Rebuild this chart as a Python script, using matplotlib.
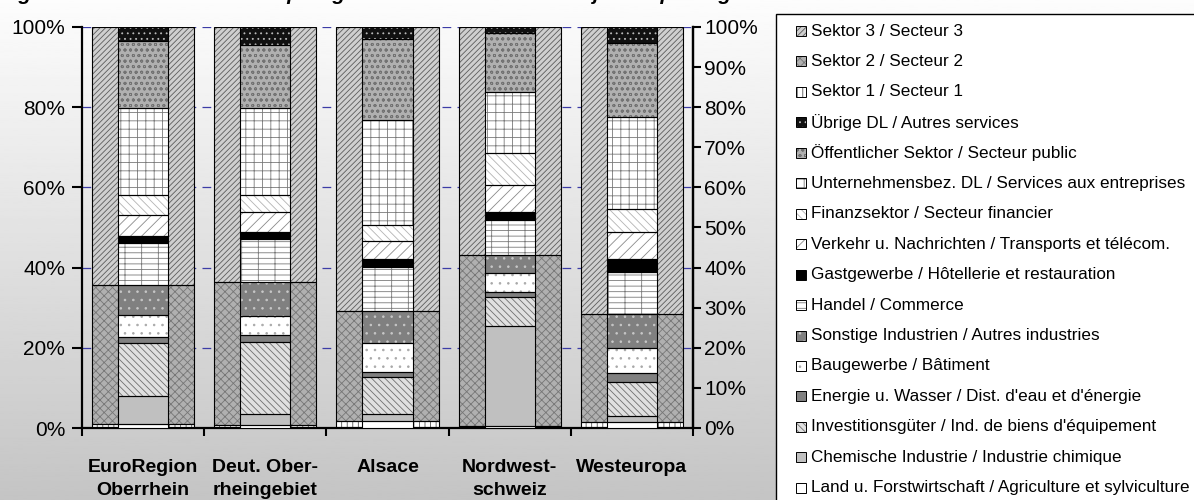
import numpy as np
import matplotlib
matplotlib.use("Agg")
import matplotlib.pyplot as plt
from matplotlib.patches import Rectangle
from matplotlib.transforms import blended_transform_factory

plt.rcParams['font.family'] = ['Liberation Sans', 'DejaVu Sans']
plt.rcParams['hatch.linewidth'] = 0.6

regions = ["EuroRegion\nOberrhein", "Deut. Ober-\nrheingebiet", "Alsace",
           "Nordwest-\nschweiz", "Westeuropa"]

# Branch shares of value added (%), listed from the bottom of each column upwards
land = [1.0, 0.7, 1.8, 0.5, 1.4]
chemie = [7.0, 2.7, 1.7, 25.0, 1.7]
invest = [13.1, 18.1, 9.1, 7.1, 8.4]
energie = [1.7, 1.7, 1.4, 1.2, 2.3]
bau = [5.4, 4.7, 7.3, 4.9, 6.2]
sonstige = [7.4, 8.4, 7.9, 4.4, 8.4]
handel = [10.5, 10.8, 11.0, 8.8, 10.6]
gast = [1.8, 1.7, 1.9, 1.9, 3.1]
verkehr = [5.1, 5.0, 4.5, 6.8, 6.9]
finanz = [5.0, 4.2, 3.9, 8.1, 5.6]
unternehmen = [21.7, 21.7, 26.3, 15.2, 22.9]
oeffentlich = [16.8, 15.8, 20.1, 14.5, 18.4]
uebrige = [3.5, 4.5, 3.1, 1.6, 4.1]

left_ticks = [0, 20, 40, 60, 80, 100]
right_ticks = [0, 10, 20, 30, 40, 50, 60, 70, 80, 90, 100]

# fill styles: (face, hatch, hatch colour)
STYLE = {
    "s3": ("#cfcfcf", "//////", "#5c5c5c"),
    "s2": ("#b0b0b0", "xxxx", "#767676"),
    "s1": ("#ffffff", "|||", "#555555"),
    "uebrige": ("#111111", "...", "#bbbbbb"),
    "oeff": ("#b0b0b0", "ooo", "#727272"),
    "unter": ("#ffffff", "++", "#7a7a7a"),
    "finanz": ("#ffffff", "\\\\\\\\", "#b4b4b4"),
    "verkehr": ("#ffffff", "///", "#8a8a8a"),
    "gast": ("#000000", None, None),
    "handel": ("#ffffff", "---|", "#7a7a7a"),
    "sonst": ("#808080", "..", "#c8c8c8"),
    "bau": ("#ffffff", "..", "#a8a8a8"),
    "energie": ("#808080", None, None),
    "invest": ("#e0e0e0", "\\\\\\\\\\", "#707070"),
    "chemie": ("#c0c0c0", None, None),
    "land": ("#ffffff", None, None),
}

branches = [
    (land, "land"), (chemie, "chemie"), (invest, "invest"), (energie, "energie"),
    (bau, "bau"), (sonstige, "sonst"), (handel, "handel"), (gast, "gast"),
    (verkehr, "verkehr"), (finanz, "finanz"), (unternehmen, "unter"),
    (oeffentlich, "oeff"), (uebrige, "uebrige"),
]

legend_entries = [
    ("s3", "Sektor 3 / Secteur 3"),
    ("s2", "Sektor 2 / Secteur 2"),
    ("s1", "Sektor 1 / Secteur 1"),
    ("uebrige", "Übrige DL / Autres services"),
    ("oeff", "Öffentlicher Sektor / Secteur public"),
    ("unter", "Unternehmensbez. DL / Services aux entreprises"),
    ("finanz", "Finanzsektor / Secteur financier"),
    ("verkehr", "Verkehr u. Nachrichten / Transports et télécom."),
    ("gast", "Gastgewerbe / Hôtellerie et restauration"),
    ("handel", "Handel / Commerce"),
    ("sonst", "Sonstige Industrien / Autres industries"),
    ("bau", "Baugewerbe / Bâtiment"),
    ("energie", "Energie u. Wasser / Dist. d'eau et d'énergie"),
    ("invest", "Investitionsgüter / Ind. de biens d'équipement"),
    ("chemie", "Chemische Industrie / Industrie chimique"),
    ("land", "Land u. Forstwirtschaft / Agriculture et sylviculture"),
]

# sector totals aggregated from the branches
sek1 = np.array(land)
sek2 = np.array(chemie) + np.array(invest) + np.array(energie) + np.array(bau) + np.array(sonstige)
sek3 = (np.array(handel) + np.array(gast) + np.array(verkehr) + np.array(finanz)
        + np.array(unternehmen) + np.array(oeffentlich) + np.array(uebrige))

W, H = 1194, 500
fig = plt.figure(figsize=(W / 100, H / 100), dpi=100)

# soft vertical gradient background
bg = fig.add_axes([0, 0, 1, 1], zorder=-10)
grad = np.linspace(0.99, 0.77, 256).reshape(-1, 1)
bg.imshow(grad, aspect='auto', cmap='gray', vmin=0, vmax=1, extent=[0, 1, 0, 1])
bg.axis('off')

ax = fig.add_axes([82 / W, 1 - 428 / H, (693 - 82) / W, (428 - 27) / H])
ax.patch.set_alpha(0)
ax.set_xlim(0, 5)
ax.set_ylim(0, 100)

xc = np.arange(len(regions)) + 0.5


def draw(target, x, h, b, w, key, z, **kw):
    face, hatch, hcol = STYLE[key]
    target.bar(x, h, width=w, bottom=b, color=face, hatch=hatch,
               edgecolor=hcol if hatch else face, linewidth=0, zorder=z, **kw)
    target.bar(x, h, width=w, bottom=b, fill=False, edgecolor='black',
               linewidth=0.8, zorder=z + 0.1, **kw)


# dashed guide lines
for yv in left_ticks[1:]:
    ax.axhline(yv, color='#3c3ca6', lw=0.9, ls=(0, (7, 5)), zorder=1)

# wide sector columns
bottom = np.zeros(5)
for vals, key in [(sek1, "s1"), (sek2, "s2"), (sek3, "s3")]:
    draw(ax, xc, vals, bottom, 0.835, key, 2)
    bottom = bottom + vals

# narrow branch columns
bottom = np.zeros(5)
for vals, key in branches:
    vals = np.array(vals)
    draw(ax, xc, vals, bottom, 0.41, key, 3)
    bottom = bottom + vals

ax.spines['top'].set_visible(False)
for s in ['left', 'bottom', 'right']:
    ax.spines[s].set_linewidth(1.6)

ax.set_yticks(left_ticks)
ax.set_yticklabels([f"{v}%" for v in left_ticks], fontsize=15)
ax.tick_params(axis='y', direction='out', length=7, width=1.5, pad=5)
ax.set_xticks(np.arange(0, 6))
ax.set_xticklabels([])
ax.tick_params(axis='x', direction='out', length=6, width=1.5)

ax2 = ax.twinx()
ax2.set_ylim(0, 100)
ax2.set_yticks(right_ticks)
ax2.set_yticklabels([f"{v}%" for v in right_ticks], fontsize=15)
ax2.tick_params(axis='y', direction='out', length=6, width=1.5, pad=2)
for s in ['top', 'left', 'bottom']:
    ax2.spines[s].set_visible(False)
ax2.spines['right'].set_linewidth(1.6)

trans = blended_transform_factory(ax.transData, ax.transAxes)
for x, lab in zip(xc, regions):
    ax.text(x, -0.077, lab, transform=trans, ha='center', va='top',
            fontsize=14, fontweight='bold', linespacing=1.45)

# title, mostly outside the canvas
fig.text(0.0, 1 + 0.5 / H, "Fig. 4: Struktur der Wertschöpfung / Structure de la valeur ajoutée par région",
         ha='left', va='baseline', fontsize=15, fontweight='bold', fontstyle='italic')

# legend box
fig.add_artist(Rectangle((776 / W, -0.05), 1.05 - 776 / W, 1.05 - 14 / H,
                         transform=fig.transFigure, facecolor='white',
                         edgecolor='black', linewidth=1, zorder=5))
for i, (key, lab) in enumerate(legend_entries):
    yc = 31 + i * 30.45
    face, hatch, hcol = STYLE[key]
    fig.add_artist(Rectangle((796 / W, 1 - (yc + 5) / H), 10 / W, 10 / H,
                             transform=fig.transFigure, facecolor=face, hatch=hatch,
                             edgecolor=hcol if hatch else face, linewidth=0, zorder=6))
    fig.add_artist(Rectangle((796 / W, 1 - (yc + 5) / H), 10 / W, 10 / H,
                             transform=fig.transFigure, fill=False,
                             edgecolor='black', linewidth=0.7, zorder=6.1))
    fig.text(811 / W, 1 - yc / H, lab, ha='left', va='center', fontsize=12.3, zorder=7)

fig.savefig("out.png", dpi=100)
